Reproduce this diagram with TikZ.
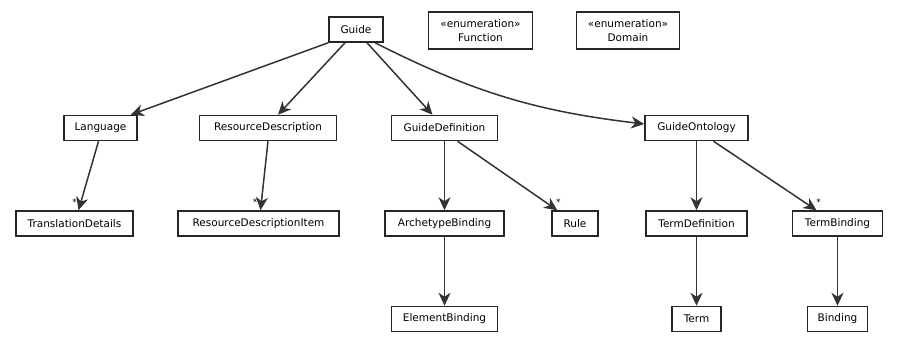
\documentclass[tikz,border=0pt]{standalone}
\usepackage{fontspec}
\setmainfont{DejaVu Sans}
\usetikzlibrary{arrows.meta}

\tikzset{
  cls/.style={rectangle, draw=black!85, line width=1.5pt, minimum height=25pt, inner sep=0pt, font=\fontsize{10.5}{12}\selectfont},
  enumcls/.style={cls, minimum height=37pt, align=center, font=\fontsize{10.5}{14.5}\selectfont},
  assoc/.style={-{Stealth[length=13pt,width=12pt,inset=4pt]}, line width=1.5pt, draw=black!80},
  mult/.style={font=\fontsize{9}{9}\selectfont, inner sep=0pt, anchor=base}
}

\begin{document}
\begin{tikzpicture}[x=1pt, y=-1pt]
  \useasboundingbox (0,0) rectangle (897,349);
  % Nodes
  \node (guide) [cls, minimum width=54pt] at (356,29.5) {Guide};
  \node (function) [enumcls, minimum width=104pt] at (480.5,30.5) {«enumeration»\\Function};
  \node (domain) [enumcls, minimum width=103pt] at (628,30.5) {«enumeration»\\Domain};
  \node (language) [cls, minimum width=73pt] at (100.5,128) {Language};
  \node (resdesc) [cls, minimum width=137pt] at (268,128) {ResourceDescription};
  \node (guidedef) [cls, minimum width=106pt] at (444.5,128) {GuideDefinition};
  \node (guideont) [cls, minimum width=103pt] at (696.5,128) {GuideOntology};
  \node (transdet) [cls, minimum width=117pt] at (74.5,223.5) {TranslationDetails};
  \node (resitem) [cls, minimum width=161pt] at (258.5,223.5) {ResourceDescriptionItem};
  \node (archbind) [cls, minimum width=119pt] at (444.5,223.5) {ArchetypeBinding};
  \node (rule) [cls, minimum width=46pt] at (575,223.5) {Rule};
  \node (termdef) [cls, minimum width=101pt] at (696.5,223.5) {TermDefinition};
  \node (termbind) [cls, minimum width=90pt] at (837.5,223.5) {TermBinding};
  \node (elembind) [cls, minimum width=106pt] at (444.5,319) {ElementBinding};
  \node (term) [cls, minimum width=49pt] at (696.5,319) {Term};
  \node (binding) [cls, minimum width=60pt] at (837.5,319) {Binding};
  % Arrow
  \draw[assoc] (guide.south west) -- ([xshift=-7pt]language.north east);
  \draw[assoc] ([xshift=-11pt]guide.south) -- ([xshift=10pt]resdesc.north);
  \draw[assoc] ([xshift=11pt]guide.south) -- ([xshift=-12pt]guidedef.north);
  \draw[assoc] ([xshift=19pt]guide.south) to[bend right=10] ([yshift=4pt]guideont.west);
  \draw[assoc] ([xshift=-2pt]language.south) -- ([xshift=4pt]transdet.north);
  \draw[assoc] (resdesc.south) -- ([xshift=2pt]resitem.north);
  \draw[assoc] (guidedef.south) -- (archbind.north);
  \draw[assoc] ([xshift=13pt]guidedef.south) -- ([xshift=6pt]rule.north west);
  \draw[assoc] (guideont.south) -- (termdef.north);
  \draw[assoc] ([xshift=17pt]guideont.south) -- ([xshift=-21pt]termbind.north);
  \draw[assoc] (archbind.south) -- (elembind.north);
  \draw[assoc] (termdef.south) -- (term.north);
  \draw[assoc] (termbind.south) -- (binding.north);
  % Multiplicities
  \node (m-transdet) [mult] at ([yshift=5pt]transdet.north) {*};
  \node (m-resitem) [mult] at ([xshift=-3.5pt,yshift=5pt]resitem.north) {*};
  \node (m-rule) [mult] at ([xshift=7pt,yshift=5pt]rule.north west) {*};
  \node (m-termbind) [mult] at ([xshift=-19pt,yshift=5pt]termbind.north) {*};
\end{tikzpicture}
\end{document}
